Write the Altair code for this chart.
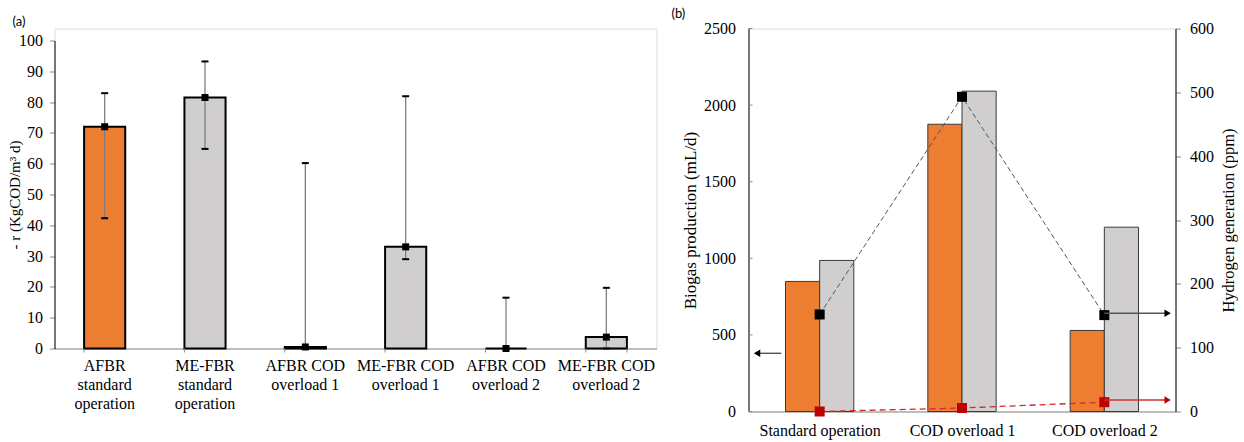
import json
import altair as alt
import pandas as pd

SERIF = "Liberation Serif"
SANS = "Lato"
ORANGE = "#ED7D31"
GREY = "#D0CECE"

# ---------------- panel (a) data ----------------
cats_a = ["AFBR|standard|operation", "ME-FBR|standard|operation", "AFBR COD|overload 1",
          "ME-FBR COD|overload 1", "AFBR COD|overload 2", "ME-FBR COD|overload 2"]
reactor_a = ["AFBR", "ME-FBR", "AFBR", "ME-FBR", "AFBR", "ME-FBR"]
rate = [72.0, 81.5, 0.5, 33.0, 0.0, 3.7]
rate_low = [42.3, 64.8, 0.0, 29.0, 0.0, 0.0]
rate_high = [82.9, 93.2, 60.2, 81.9, 16.5, 19.7]
rate_ticks = [0, 10, 20, 30, 40, 50, 60, 70, 80, 90, 100]

# ---------------- panel (b) data ----------------
conditions = ["Standard operation", "COD overload 1", "COD overload 2"]
biogas_afbr = [849, 1875, 529]
biogas_mefbr = [986, 2091, 1203]
h2_black = [152, 493, 151]
h2_red = [0, 5.5, 14.6]
biogas_ticks = [0, 500, 1000, 1500, 2000, 2500]
h2_ticks = [0, 100, 200, 300, 400, 500, 600]

# arrow annotations (x in category units, y in axis units)
left_arrow_x = [0.23, 0.06]
left_arrow_y = [380]
right_arrow_y = [154, 18]
right_arrow_x = [2.5, 2.945]

# ================= panel (a) =================
df_a = pd.DataFrame({"cat": cats_a, "reactor": reactor_a, "rate": rate,
                     "low": rate_low, "high": rate_high})

xa_scale = alt.Scale(paddingInner=0.59, paddingOuter=0.295)
xa_axis = alt.Axis(title=None, ticks=False, tickSize=0, labelAngle=0,
                   labelExpr="split(datum.label, '|')", labelFont=SERIF, labelFontSize=16,
                   labelLineHeight=19, labelPadding=9, labelColor="black",
                   domainColor="#8c8c8c", domainWidth=1.2, labelLimit=300)
ya_scale = alt.Scale(domain=[0, 100], nice=False, zero=True, range=[320, 12])
ya_axis = alt.Axis(values=rate_ticks, grid=False, title="- r (KgCOD/m³ d)", titleFont=SERIF,
                   titleFontSize=15, titleFontWeight="normal", titleColor="black", titleX=-32,
                   labelFont=SERIF, labelFontSize=16, labelColor="black", labelPadding=7,
                   tickSize=5, tickColor="#8c8c8c", domainColor="black")


def XA(**kw):
    return alt.X("cat:N", sort=cats_a, scale=xa_scale, axis=xa_axis, **kw)


def YA(field):
    return alt.Y(field, scale=ya_scale, axis=ya_axis)


base_a = alt.Chart(df_a)
bars_a = base_a.mark_bar(stroke="black", strokeWidth=2).encode(
    x=XA(), y=YA("rate:Q"),
    color=alt.Color("reactor:N", scale=alt.Scale(domain=["AFBR", "ME-FBR"], range=[ORANGE, GREY]),
                    legend=None))
whisk_a = base_a.mark_rule(color="#7f7f7f", strokeWidth=1.3).encode(
    x=XA(), y=YA("low:Q"), y2="high:Q")
cap_hi = base_a.mark_tick(color="black", thickness=2, size=7, opacity=1).encode(x=XA(), y=YA("high:Q"))
cap_lo = base_a.mark_tick(color="black", thickness=2, size=7, opacity=1).encode(x=XA(), y=YA("low:Q"))
pts_a = base_a.mark_point(shape="square", filled=True, size=49, color="black", opacity=1).encode(
    x=XA(), y=YA("rate:Q"))
tick_rules = base_a.mark_rule(color="#8c8c8c").encode(
    x=XA(bandPosition=0), y=alt.value(320), y2=alt.value(324))
tick_last = base_a.transform_filter(alt.datum.cat == cats_a[-1]).mark_rule(color="#8c8c8c").encode(
    x=XA(bandPosition=1), y=alt.value(320), y2=alt.value(324))

panel_a = alt.layer(bars_a, whisk_a, cap_hi, cap_lo, pts_a, tick_rules, tick_last).properties(
    width=602, height=320,
    title=alt.TitleParams("(a)", anchor="start", font=SANS, fontSize=13, fontWeight="normal",
                          color="black", offset=0, dx=5))

# ================= panel (b) =================
df_bars = pd.DataFrame({"idx": [0, 1, 2, 0, 1, 2],
                        "reactor": ["AFBR"] * 3 + ["ME-FBR"] * 3,
                        "biogas": biogas_afbr + biogas_mefbr})
df_h2 = pd.DataFrame({"idx": [0, 1, 2], "h2b": h2_black, "h2r": h2_red})

xb_scale = alt.Scale(domain=[0, 3], nice=False, zero=False)
xb_axis = alt.Axis(values=[0.5, 1.5, 2.5], labelExpr=f"{json.dumps(conditions)}[floor(datum.value)]",
                   ticks=False, tickSize=0, grid=False, title=None, labelFont=SERIF, labelFontSize=16,
                   labelColor="black", labelPadding=11, domainColor="#8c8c8c", labelFlush=False,
                   labelOverlap=False)
yb_scale = alt.Scale(domain=[0, 2500], nice=False)
yb_axis = alt.Axis(orient="left", values=biogas_ticks, format="d", ticks=False, tickSize=0, grid=False,
                   title="Biogas production (mL/d)", titleFont=SERIF, titleFontSize=17,
                   titleFontWeight="normal", titleColor="black", titlePadding=4,
                   labelFont=SERIF, labelFontSize=16, labelColor="black", labelPadding=13,
                   domainColor="black")
yh_scale = alt.Scale(domain=[0, 600], nice=False)
yh_axis = alt.Axis(orient="right", values=h2_ticks, format="d", grid=False, tickSize=5,
                   tickColor="#8c8c8c", domainColor="black", title="Hydrogen generation (ppm)",
                   titleFont=SERIF, titleFontSize=16.5, titleFontWeight="normal", titleColor="black",
                   titleAngle=270, titleBaseline="top", titlePadding=7, labelFont=SERIF,
                   labelFontSize=16, labelColor="black", labelPadding=9)


def XB(field):
    return alt.X(field, type="quantitative", scale=xb_scale, axis=xb_axis)


def YB(field):
    return alt.Y(field, type="quantitative", scale=yb_scale, axis=yb_axis)


def YH(field):
    return alt.Y(field, type="quantitative", scale=yh_scale, axis=yh_axis)


bars_b = alt.Chart(df_bars).transform_calculate(
    x0="datum.idx + (datum.reactor == 'AFBR' ? 0.26 : 0.5)",
    x1="datum.idx + (datum.reactor == 'AFBR' ? 0.5 : 0.74)",
    base="0"
).mark_bar(stroke="#3a3a3a", strokeWidth=1).encode(
    x=XB("x0"), x2="x1:Q", y=YB("biogas"), y2="base:Q",
    color=alt.Color("reactor:N", scale=alt.Scale(domain=["AFBR", "ME-FBR"], range=[ORANGE, GREY]),
                    legend=None))

df_ticks_b = pd.DataFrame({"biogas": biogas_ticks})
inner_ticks = alt.Chart(df_ticks_b).mark_rule(color="#8c8c8c").encode(
    y=YB("biogas"), x=alt.value(0), x2=alt.value(4))

df_larrow = pd.DataFrame({"xs": [left_arrow_x[0]], "xe": [left_arrow_x[1]], "biogas": left_arrow_y})
larrow_line = alt.Chart(df_larrow).mark_rule(color="#555555", strokeWidth=1.4).encode(
    x=XB("xs"), x2="xe:Q", y=YB("biogas"))
larrow_head = alt.Chart(df_larrow).mark_point(shape="triangle-left", filled=True, size=55,
                                              color="black", opacity=1).encode(
    x=XB("xe"), y=YB("biogas"))

biogas_layer = alt.layer(bars_b, inner_ticks, larrow_line, larrow_head)

base_h = alt.Chart(df_h2).transform_calculate(xc="datum.idx + 0.5")
line_black = base_h.mark_line(color="#555555", strokeWidth=1, strokeDash=[5, 3]).encode(
    x=XB("xc"), y=YH("h2b"))
line_red = base_h.mark_line(color="#D42A2A", strokeWidth=1.3, strokeDash=[6, 4]).encode(
    x=XB("xc"), y=YH("h2r"))
pts_black = base_h.mark_point(shape="square", filled=True, size=100, color="black", opacity=1).encode(
    x=XB("xc"), y=YH("h2b"))
pts_red = base_h.mark_point(shape="square", filled=True, size=100, color="#C00000", opacity=1).encode(
    x=XB("xc"), y=YH("h2r"))

df_rarrow = pd.DataFrame({"xs": [right_arrow_x[0]] * 2, "xe": [right_arrow_x[1]] * 2,
                          "h2": right_arrow_y, "col": ["black", "red"]})
arrow_color = alt.Color("col:N", scale=alt.Scale(domain=["black", "red"], range=["#555555", "#D03030"]),
                        legend=None)
head_color = alt.Color("col:N", scale=alt.Scale(domain=["black", "red"], range=["black", "#C00000"]),
                       legend=None)
rarrow_line = alt.Chart(df_rarrow).mark_rule(strokeWidth=1.4).encode(
    x=XB("xs"), x2="xe:Q", y=YH("h2"), color=arrow_color)
rarrow_head = alt.Chart(df_rarrow).mark_point(shape="triangle-right", filled=True, size=55,
                                              opacity=1).encode(
    x=XB("xe"), y=YH("h2"), fill=head_color)

h2_layer = alt.layer(line_black, line_red, pts_black, pts_red, rarrow_line, rarrow_head)

panel_b = alt.layer(biogas_layer, h2_layer).resolve_scale(y="independent", color="independent").properties(
    width=427, height=383,
    title=alt.TitleParams("(b)", anchor="start", font=SANS, fontSize=13, fontWeight="normal",
                          color="black", offset=0, dx=-10))

chart = alt.hconcat(panel_a, panel_b, spacing=13).resolve_scale(color="independent").properties(
    padding={"left": 6.5, "top": 6.5, "right": 0, "bottom": 0}
).configure_view(stroke=None).configure_axis(
    labelFont=SERIF, titleFont=SERIF
).configure(background="white")

chart.save("out.html", embed_options={"renderer": "svg", "actions": False})
